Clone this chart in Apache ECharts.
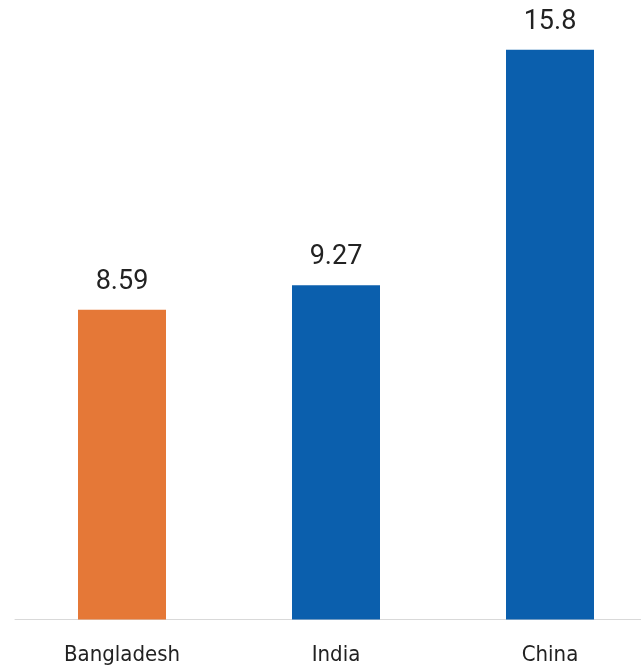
<!DOCTYPE html>
<html><head><meta charset="utf-8">
<script src="https://cdn.jsdelivr.net/npm/echarts@6/dist/echarts.min.js"></script>
<style>html,body{margin:0;padding:0;background:#fff;overflow:hidden}#c{width:657px;height:671px}</style>
</head><body><div id="c"></div>
<script>
const categories = ["Bangladesh", "India", "China"];
const values = [8.59, 9.27, 15.8];
const barColors = ["#E57837", "#0B5FAD", "#0B5FAD"];

const chart = echarts.init(document.getElementById('c'), null, {renderer: 'canvas'});
chart.setOption({
  animation: false,
  grid: {left: 15, right: 0, top: 6.5, bottom: 51.5, containLabel: false},
  xAxis: {
    type: 'category', data: categories,
    axisLine: {show: true, lineStyle: {color: '#D9D9D9', width: 1}},
    axisTick: {show: false},
    axisLabel: {color: '#222', fontSize: 22, fontFamily: 'Liberation Sans Narrow, DejaVu Sans Condensed, sans-serif', margin: 25}
  },
  yAxis: {type: 'value', min: 0, max: 17, show: false, splitLine: {show: false}},
  series: [{
    type: 'bar', barWidth: 88,
    data: values.map((v, i) => ({value: v, itemStyle: {color: barColors[i]}})),
    label: {show: true, position: 'top', distance: 14, color: '#222', fontSize: 27, fontFamily: 'Roboto, sans-serif'}
  }]
});
</script></body></html>
